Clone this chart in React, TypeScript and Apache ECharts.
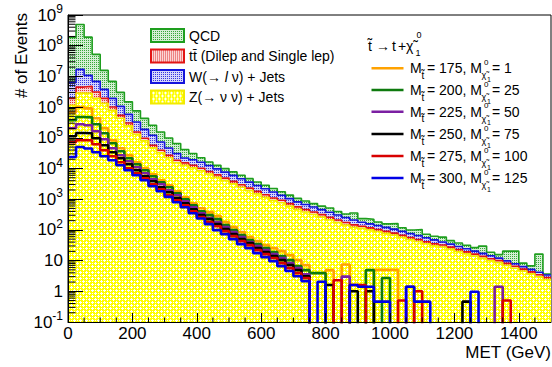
import { useEffect, useRef } from 'react';
import * as echarts from 'echarts';

const FONT = "'Liberation Sans', Arial, Helvetica, sans-serif";

// ---- binning ----
const BIN_WIDTH = 25; // GeV
const N_BINS = 60;
const X_MIN = 0;
const X_MAX = 1500;
const Y_MIN = 0.1;
const Y_MAX = 1e9;
const binEdges: number[] = Array.from({ length: N_BINS + 1 }, (_, i) => X_MIN + i * BIN_WIDTH);

// ---- stacked backgrounds (events per 25 GeV bin) ----
const zJets = [
  1.14e6, 2.86e6, 2.8e6, 1.93e6, 1.32e6, 7.84e5, 4.31e5, 2.45e5, 1.3e5, 7.98e4,
  4.73e4, 3.25e4, 2.24e4, 1.54e4, 1.26e4, 1.06e4, 8450, 6610, 5150, 4030,
  3150, 2455, 1905, 1486, 1161, 907, 764, 597, 466, 384,
  316, 260, 214, 175, 144, 122, 112, 100, 88.3, 77.3,
  67.5, 57.7, 48.9, 41.8, 35.5, 30.3, 27.7, 23.7, 19.9, 16.6,
  14.0, 11.8, 9.85, 8.61, 6.98, 5.62, 4.55, 3.69, 2.97, 2.41,
];
const ttbar = [
  7.85e5, 1.63e6, 1.93e6, 1.16e6, 6.0e5, 2.2e5, 1.08e5, 5.7e4, 2.45e4, 1.64e4,
  9800, 6700, 4600, 3200, 2600, 2200, 1740, 1360, 1060, 830,
  649, 506, 392, 306, 239, 187, 157, 123, 96, 79,
  65, 54, 44, 36, 30, 24, 19, 16, 14.3, 12.5,
  10.9, 9.3, 7.9, 6.8, 5.7, 4.9, 4.5, 3.8, 3.2, 2.7,
  2.3, 1.9, 1.6, 1.39, 1.13, 0.91, 0.74, 0.6, 0.48, 0.39,
];
const wJets = [
  4.45e6, 1.24e7, 6.05e6, 3.8e6, 1.85e6, 9.2e5, 5.19e5, 2.78e5, 1.72e5, 9.26e4,
  6.36e4, 3.38e4, 1.96e4, 1.21e4, 6900, 6500, 5780, 4520, 3520, 2760,
  2150, 1680, 1300, 1015, 794, 620, 418, 327, 255, 210,
  173, 142, 117, 96, 79, 65, 47, 41, 35.8, 31.3,
  27.4, 23.4, 19.8, 17.0, 14.4, 12.3, 8.1, 6.9, 5.8, 4.9,
  4.1, 3.5, 2.9, 2.06, 1.67, 1.35, 1.09, 0.88, 0.71, 0.58,
];
const qcd = [
  1.79e8, 4.75e8, 1.79e8, 4.51e7, 1.19e7, 4.95e6, 1.96e6, 9.0e5, 4.29e5, 2.41e5,
  1.35e5, 8.14e4, 5.2e4, 3.42e4, 1.93e4, 1.14e4, 6390, 3750, 2920, 2290,
  1790, 1390, 1080, 843, 658, 514, 401, 314, 245, 202,
  166, 137, 140, 92, 76, 143, 55, 65, 41.5, 36,
  56, 27, 23, 38, 16.7, 14.3, 17.9, 10.3, 8.7, 7.3,
  6.1, 12.5, 4.3, 3.6, 10.6, 12.5, 1.9, 1.55, 12.1, 0.26,
];

// ---- signals (stop -> top + neutralino) ----
const sig175 = [
  6.75e5, 1.0e6, 9.1e5, 4.31e5, 2.04e5, 8.29e4, 4.56e4, 2.7e4, 1.6e4, 1.02e4,
  6500, 4150, 2850, 1820, 1160, 741, 510, 378, 280, 179,
  123, 84.5, 58.1, 43.1, 31.9, 25.5, 20.4, 15.1, 10.4, 7.1,
  0, 0, 4.9, 0, 7.5, 0, 0, 0, 5.0, 5.0,
  5.0, 0, 0, 0, 0, 0, 0, 0, 0, 0,
  0, 0, 0, 0, 0, 0, 0, 0, 0, 0,
];
const sig200 = [
  3.71e5, 4.75e5, 4.64e5, 2.75e5, 1.4e5, 6.62e4, 3.64e4, 2.15e4, 1.375e4, 8770,
  5600, 3570, 2460, 1570, 1000, 638, 407, 302, 224, 143,
  98, 67.5, 46.4, 34.4, 25.5, 18.9, 14.0, 10.4, 6.6, 4.9,
  3.9, 3.9, 0, 0, 0, 0, 0, 4.9, 0, 2.7,
  0, 0, 0, 0, 0, 0, 0, 0, 0, 0,
  0, 0, 0, 0, 0, 0, 0, 0, 0, 0,
];
const sig225 = [
  2.04e5, 2.75e5, 2.55e5, 1.63e5, 8.94e4, 4.56e4, 2.7e4, 1.72e4, 1.1e4, 7010,
  4470, 3070, 1960, 1350, 861, 549, 350, 241, 179, 123,
  84.5, 58.1, 40.0, 29.6, 21.9, 16.3, 12.1, 8.3, 5.7, 3.6,
  0, 0, 0, 0, 3.0, 0, 0, 0, 0, 0,
  0, 0, 1.4, 0, 0, 0, 0, 0, 0, 0,
  0, 0, 0, 1.4, 0, 0, 0, 0, 0, 0,
];
const sig250 = [
  1.12e5, 1.43e5, 1.4e5, 9.63e4, 5.7e4, 3.38e4, 2.15e4, 1.375e4, 8770, 5600,
  3850, 2460, 1690, 1080, 741, 473, 302, 224, 154, 106,
  72.7, 50.0, 37.1, 25.5, 18.9, 14.0, 10.4, 7.1, 4.9, 3.1,
  0, 0, 1.6, 0, 0, 1.0, 0, 1.0, 0, 0,
  0, 0, 0, 0, 0, 0, 0, 0, 0, 0.46,
  0, 0, 0, 0, 0, 0, 0, 0, 0, 0,
];
const sig275 = [
  7.14e4, 8.29e4, 8.29e4, 6.15e4, 3.92e4, 2.5e4, 1.6e4, 1.02e4, 7010, 4820,
  3070, 2110, 1350, 928, 638, 407, 260, 179, 132, 91,
  62.6, 43.1, 31.9, 21.9, 16.3, 12.1, 8.3, 5.7, 3.9, 2.7,
  0, 0, 0, 2.3, 0, 1.6, 1.6, 0, 0, 0,
  0, 0.5, 0, 1.0, 0, 0, 0, 0, 0, 0,
  0, 0, 0, 0, 0.5, 0, 0, 0, 0, 0,
];
const sig300 = [
  2.37e4, 5.02e4, 4.46e4, 3.38e4, 2.5e4, 1.855e4, 1.275e4, 8770, 6030, 4150,
  2650, 1820, 1190, 799, 549, 350, 236, 154, 98, 72.7,
  50.0, 34.4, 25.5, 17.5, 13.0, 9.6, 6.6, 4.6, 3.1, 2.15,
  0, 2.05, 0, 0, 0, 1.6, 1.4, 1.4, 0.46, 0.46,
  0, 0, 1.4, 0.46, 0.46, 0, 0, 0, 0, 0,
  0.97, 0, 0, 0, 0, 0, 0, 0, 0, 0,
];

const stopMasses = [175, 200, 225, 250, 275, 300];
const lspMasses = [1, 25, 50, 75, 100, 125];
const signalColors = ['#ffa200', '#0e7a0e', '#7b1fa2', '#000000', '#d80000', '#0000e6'];
const signalValues = [sig175, sig200, sig225, sig250, sig275, sig300];

// ---- background display ----
type BgKey = 'qcd' | 'tt' | 'w' | 'z';
const BG_NAMES: Record<BgKey, string> = {
  qcd: 'QCD',
  tt: 'tt\u0304 (Dilep and Single lep)',
  w: 'W(\u2192 l \u03bd) + Jets',
  z: 'Z(\u2192 \u03bd \u03bd) + Jets',
};
const BG_STYLE: Record<BgKey, { line: string; fill: string; base: string; dot: string }> = {
  qcd: { line: '#1e9e1e', fill: '#b5e2b5', base: '#d4efd4', dot: '#38a838' },
  tt: { line: '#e21414', fill: '#f5a3a3', base: '#fbd6d6', dot: '#e03030' },
  w: { line: '#1414dc', fill: '#aaaaf0', base: '#d6d6fb', dot: '#3434e0' },
  z: { line: '#f2ea00', fill: '#ffff3c', base: '#ffff00', dot: '#ffffff' },
};

// stack order, bottom to top: Z, ttbar, W, QCD
const stackOrder: BgKey[] = ['z', 'tt', 'w', 'qcd'];
const bgValues: Record<BgKey, number[]> = { z: zJets, tt: ttbar, w: wJets, qcd: qcd };

const FLOOR = 1e-4; // empty bins drop below the axis
const toStep = (vals: number[]) => {
  const pts = vals.map((v, i) => [binEdges[i], v > 0 ? v : FLOOR]);
  pts.push([binEdges[N_BINS], vals[N_BINS - 1] > 0 ? vals[N_BINS - 1] : FLOOR]);
  return pts;
};

// minor tick positions (axis decoration)
const yMinorTicks: number[] = [];
for (let e = -1; e < 9; e++) for (let k = 2; k <= 9; k++) yMinorTicks.push(k * Math.pow(10, e));
const xMinorTicks: number[] = [];
for (let x = 50; x < X_MAX; x += 50) if (x % 200 !== 0) xMinorTicks.push(x);

// ROOT-like hatch fills
function makeTile(size: number, base: string, dot: string, dots: number[][]): any {
  try {
    const c = document.createElement('canvas');
    c.width = size;
    c.height = size;
    const g = c.getContext('2d');
    if (!g) return base;
    g.fillStyle = base;
    g.fillRect(0, 0, size, size);
    g.fillStyle = dot;
    dots.forEach(([x, y]) => g.fillRect(x, y, 1, 1));
    return { image: c.toDataURL(), repeat: 'repeat', imageWidth: size, imageHeight: size };
  } catch (e) {
    return base;
  }
}
function makeFills(): Record<BgKey, any> {
  const dot2 = [[0, 0]];
  const zDots = [
    [2, 1], [1, 2], [2, 2], [3, 2], [2, 3],
    [5, 0], [5, 2], [5, 4], [0, 5], [2, 5], [4, 5], [5, 5],
  ];
  return {
    qcd: makeTile(2, BG_STYLE.qcd.base, BG_STYLE.qcd.dot, dot2),
    tt: makeTile(2, BG_STYLE.tt.base, BG_STYLE.tt.dot, dot2),
    w: makeTile(2, BG_STYLE.w.base, BG_STYLE.w.dot, dot2),
    z: makeTile(6, BG_STYLE.z.base, BG_STYLE.z.dot, zDots),
  };
}

function buildBackgroundSeries(fills: Record<BgKey, any>) {
  // cumulative sums, as a THStack draws them
  const cum: Record<string, number[]> = {};
  let running = new Array(N_BINS).fill(0);
  stackOrder.forEach((k) => {
    running = running.map((r, i) => r + bgValues[k][i]);
    cum[k] = running.slice();
  });
  // draw the tallest first, lower layers over it
  return stackOrder
    .slice()
    .reverse()
    .map((k) => ({
      name: BG_NAMES[k],
      type: 'line',
      step: 'end',
      symbol: 'none',
      data: toStep(cum[k]),
      lineStyle: { color: BG_STYLE[k].line, width: 1.6 },
      itemStyle: { color: BG_STYLE[k].fill },
      areaStyle: { color: fills[k], opacity: 1, origin: Y_MIN },
      z: 2,
    }));
}

function buildSignalLegend() {
  const els: any[] = [];
  const t = (text: string, x: number, y: number, size: number) => ({
    type: 'text',
    x,
    y,
    z: 100,
    silent: true,
    style: { text, fontSize: size, fontFamily: FONT, fill: '#000', align: 'left', verticalAlign: 'middle' },
  });
  // header: stop -> t + chi
  const hy = 46;
  els.push(t('t\u0303', 368, hy, 14));
  els.push(t('\u2192', 376, hy, 14));
  els.push(t('t', 392, hy, 14));
  els.push(t('+', 398, hy, 14));
  els.push(t('\u03c7\u0303', 406, hy, 14));
  els.push(t('0', 416.5, hy - 11, 9));
  els.push(t('1', 415.5, hy + 7, 9));
  const rowY = [68.3, 90, 111.7, 134, 156, 178];
  stopMasses.forEach((ms, i) => {
    const y = rowY[i];
    els.push({
      type: 'line',
      z: 100,
      silent: true,
      shape: { x1: 371.5, y1: y, x2: 403.5, y2: y },
      style: { stroke: signalColors[i], lineWidth: 2.5 },
    });
    els.push(t('M', 410, y, 14));
    els.push(t('t\u0303', 421.5, y + 7, 10));
    els.push(t(`= ${ms}, M`, 427, y, 14));
    els.push(t('\u03c7\u0303', 481.5, y + 7, 9));
    els.push(t('1', 487, y + 11, 7));
    els.push(t('0', 484, y - 6, 8));
    els.push(t(`= ${lspMasses[i]}`, 492, y, 14));
  });
  return els;
}

export default function App() {
  const ref = useRef<HTMLDivElement>(null);
  useEffect(() => {
    if (!ref.current) return;
    const chart = echarts.init(ref.current, null, { renderer: 'svg' });
    const fills = makeFills();
    const signalSeries = stopMasses.map((ms, i) => ({
      name: `M(t\u0303) = ${ms}, M(\u03c7\u0303\u2081\u2070) = ${lspMasses[i]}`,
      type: 'line',
      step: 'end',
      symbol: 'none',
      data: toStep(signalValues[i]),
      lineStyle: { color: signalColors[i], width: 2.6 },
      itemStyle: { color: signalColors[i] },
      z: 3,
    }));
    const option: any = {
      animation: false,
      backgroundColor: '#ffffff',
      textStyle: { fontFamily: FONT },
      grid: {
        left: 68,
        right: 1,
        top: 15,
        bottom: 45,
        show: true,
        borderColor: '#000',
        borderWidth: 1,
        backgroundColor: 'transparent',
        outerBoundsMode: 'none',
      },
      legend: {
        show: true,
        left: 150,
        top: 28,
        z: 100,
        orient: 'vertical',
        padding: 0,
        itemGap: 5.5,
        itemWidth: 33,
        itemHeight: 13,
        selectedMode: false,
        textStyle: {
          fontSize: 14,
          fontFamily: FONT,
          color: '#000',
          rich: { it: { fontStyle: 'italic', fontSize: 14, fontFamily: FONT, color: '#000' } },
        },
        formatter: (name: string) => (name === BG_NAMES.w ? 'W(\u2192 {it|l} \u03bd) + Jets' : name),
        data: (['qcd', 'tt', 'w', 'z'] as BgKey[]).map((k) => ({
          name: BG_NAMES[k],
          icon: 'rect',
          itemStyle: { color: fills[k], borderColor: BG_STYLE[k].line, borderWidth: 2 },
        })),
      },
      xAxis: {
        type: 'value',
        min: X_MIN,
        max: X_MAX,
        interval: 200,
        z: 10,
        name: 'MET (GeV)',
        nameLocation: 'end',
        nameGap: 0,
        nameTextStyle: {
          fontSize: 17,
          fontFamily: FONT,
          color: '#000',
          align: 'right',
          verticalAlign: 'top',
          padding: [22, 0, 0, 0],
        },
        axisLine: { show: true, onZero: false, lineStyle: { color: '#000', width: 1 } },
        axisTick: { show: true, inside: true, length: 9, lineStyle: { color: '#000', width: 1 } },
        minorTick: { show: false },
        splitLine: { show: false },
        axisLabel: {
          fontSize: 17,
          fontFamily: FONT,
          color: '#000',
          margin: 3,
          showMaxLabel: false,
          formatter: (v: number) => String(v),
        },
      },
      yAxis: {
        type: 'log',
        logBase: 10,
        min: Y_MIN,
        max: Y_MAX,
        interval: 1,
        splitNumber: 10,
        z: 10,
        axisLine: { show: true, lineStyle: { color: '#000', width: 1 } },
        axisTick: { show: true, inside: true, length: 15, lineStyle: { color: '#000', width: 1 } },
        minorTick: { show: false },
        splitLine: { show: false },
        axisLabel: {
          fontSize: 17,
          fontFamily: FONT,
          color: '#000',
          margin: 5,
          lineHeight: 24,
          formatter: (v: number) => {
            const e = Math.round(Math.log10(v));
            if (e === 0) return '1';
            if (e === 1) return '10';
            return `10{sup|${e}}`;
          },
          rich: {
            sup: { fontSize: 12, lineHeight: 12, verticalAlign: 'top', fontFamily: FONT, color: '#000' },
          },
        },
      },
      graphic: [
        {
          type: 'text',
          x: 21,
          y: 13,
          rotation: Math.PI / 2,
          silent: true,
          style: { text: '# of Events', fontSize: 17, fontFamily: FONT, fill: '#000', align: 'right', verticalAlign: 'middle' },
        },
        ...buildSignalLegend(),
      ],
      series: [
        ...buildBackgroundSeries(fills),
        ...signalSeries,
        {
          type: 'custom',
          name: 'yMinorTicks',
          silent: true,
          z: 10,
          clip: false,
          data: yMinorTicks.map((v) => [X_MIN, v]),
          encode: { x: 0, y: 1 },
          renderItem: (_p: any, api: any) => {
            const p = api.coord([X_MIN, api.value(1)]);
            return {
              type: 'line',
              shape: { x1: p[0], y1: p[1], x2: p[0] + 7.5, y2: p[1] },
              style: { stroke: '#000', lineWidth: 1 },
            };
          },
        },
        {
          type: 'custom',
          name: 'xMinorTicks',
          silent: true,
          z: 10,
          clip: false,
          data: xMinorTicks.map((x) => [x, Y_MIN]),
          encode: { x: 0, y: 1 },
          renderItem: (_p: any, api: any) => {
            const p = api.coord([api.value(0), Y_MIN]);
            return {
              type: 'line',
              shape: { x1: p[0], y1: p[1], x2: p[0], y2: p[1] - 4.5 },
              style: { stroke: '#000', lineWidth: 1 },
            };
          },
        },
      ],
    };
    chart.setOption(option);
    return () => chart.dispose();
  }, []);
  return (
    <div
      ref={ref}
      style={{ position: 'absolute', left: 0, top: 0, width: 552, height: 367, background: '#fff' }}
    />
  );
}
